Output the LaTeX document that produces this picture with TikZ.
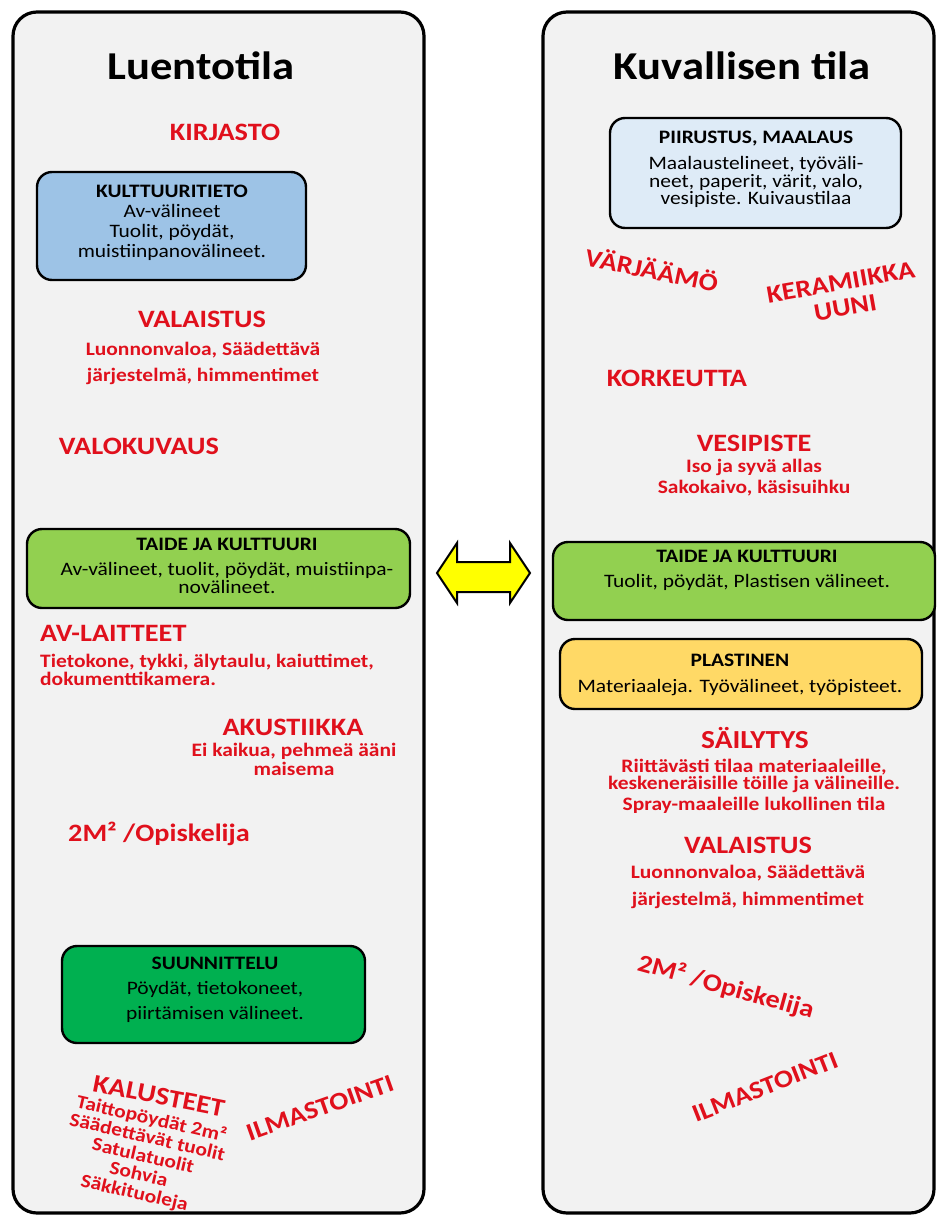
\documentclass[tikz,border=0pt]{standalone}
\usepackage{fontspec}
\setmainfont{Carlito}[FakeStretch=1.13]
\definecolor{redt}{RGB}{224,16,28}
\definecolor{panelgray}{RGB}{242,242,242}
\definecolor{blueA}{RGB}{157,195,230}
\definecolor{blueB}{RGB}{222,235,247}
\definecolor{greenA}{RGB}{146,208,80}
\definecolor{greenB}{RGB}{0,176,80}
\definecolor{yellowA}{RGB}{255,217,102}
\definecolor{arrowyellow}{RGB}{255,255,0}
\begin{document}
\begin{tikzpicture}[x=1pt,y=-1pt,
  panel/.style={draw=black, line width=3.2pt, fill=panelgray, rounded corners=24pt},
  box/.style={draw=black, line width=2.4pt, rounded corners=15pt, inner sep=0pt, outer sep=0pt},
  ptitle/.style={font=\bfseries\fontsize{39.5}{44}\selectfont, inner sep=0pt},
  head/.style={text=redt, font=\bfseries\fontsize{25}{28}\selectfont, inner sep=0pt},
  bighead/.style={text=redt, font=\bfseries\fontsize{26}{30}\selectfont, inner sep=0pt},
  sub/.style={text=redt, font=\bfseries\fontsize{19}{#1}\selectfont, align=center, inner sep=0pt},
  btitle/.style={font=\bfseries\fontsize{19}{20}\selectfont, inner sep=0pt},
  btext/.style={font=\fontsize{19}{#1}\selectfont, align=center, inner sep=0pt},
]
\useasboundingbox (0,0) rectangle (937,1215);
\fill[white] (0,0) rectangle (937,1215);

% panels
\path[panel] (13,12) rectangle (424,1213);
\path[panel] (543,12) rectangle (934,1213);

% double arrow
\draw[line width=2pt, fill=arrowyellow, line join=miter]
  (437,573) -- (457,543) -- (457,562) -- (510,562) -- (510,543) -- (530,573)
  -- (510,603) -- (510,592) -- (457,592) -- (457,603) -- cycle;

% ===== Left panel =====
\node[ptitle] (t1) at (201,66) {Luentotila};
\node[head] (kirjasto) at (225,132) {KIRJASTO};

\node[box, fill=blueA, minimum width=269pt, minimum height=108pt] (b1) at (171.5,226) {};
\node[btext=20] (b1t) at (172,223) {\textbf{KULTTUURITIETO}\\Av-välineet\\Tuolit, pöydät,\\muistiinpanovälineet.};

\node[head] (val1) at (202,319) {VALAISTUS};
\node[sub=26] (val1s) at (203,363) {Luonnonvaloa, Säädettävä\\järjestelmä, himmentimet};

\node[head] (valok) at (139,446) {VALOKUVAUS};

\node[box, fill=greenA, minimum width=383pt, minimum height=79pt] (b2) at (218.5,568.5) {};
\node[btitle] (b2h) at (227,544) {TAIDE JA KULTTUURI};
\node[btext=15] (b2t) at (227,578) {Av-välineet, tuolit, pöydät, muistiinpa-\\novälineet.};

\node[head, anchor=west] (avl) at (40,633) {AV-LAITTEET};
\node[sub=15, align=left, anchor=west] (avls) at (40,670) {Tietokone, tykki, älytaulu, kaiuttimet,\\dokumenttikamera.};

\node[head] (akus) at (293,727) {AKUSTIIKKA};
\node[sub=19] (akuss) at (294,759) {Ei kaikua, pehmeä ääni\\maisema};

\node[head] (op1) at (159,834) {2M² /Opiskelija};

\node[box, fill=greenB, minimum width=303pt, minimum height=97pt] (b3) at (213.5,994.5) {};
\node[btitle] (b3h) at (215,963) {SUUNNITTELU};
\node[btext=25] (b3t) at (215,1002) {Pöydät, tietokoneet,\\piirtämisen välineet.};

\node[bighead, font=\bfseries\fontsize{25.5}{30}\selectfont, rotate=-11] (kal) at (159,1096) {KALUSTEET};
\node[sub=19, rotate=-13] (kals) at (143,1156)
  {Taittopöydät 2m²\\Säädettävät tuolit\\Satulatuolit\\Sohvia\\Säkkituoleja};
\node[head, rotate=19.5] (ilm1) at (320,1108) {ILMASTOINTI};

% ===== Right panel =====
\node[ptitle] (t2) at (742,66) {Kuvallisen tila};

\node[box, fill=blueB, minimum width=291pt, minimum height=110pt] (b4) at (755.5,173) {};
\node[btitle] (b4h) at (756,139) {PIIRUSTUS, MAALAUS};
\node[btext=16] (b4t) at (756,182) {Maalaustelineet, työväli-\\neet, paperit, värit, valo,\\vesipiste. Kuivaustilaa};

\node[head, rotate=-11.5] (varj) at (652,269) {VÄRJÄÄMÖ};
\node[head, align=center, font=\bfseries\fontsize{25}{26}\selectfont, rotate=10] (ker) at (843,295) {KERAMIIKKA\\UUNI};

\node[head] (kork) at (677,378) {KORKEUTTA};

\node[head] (vesi) at (754,443) {VESIPISTE};
\node[sub=21] (vesis) at (754,478) {Iso ja syvä allas\\Sakokaivo, käsisuihku};

\node[box, fill=greenA, minimum width=382pt, minimum height=78pt] (b5) at (744,581) {};
\node[btitle] (b5h) at (747,556) {TAIDE JA KULTTUURI};
\node[btext=20] (b5t) at (747,582) {Tuolit, pöydät, Plastisen välineet.};

\node[box, fill=yellowA, minimum width=362pt, minimum height=70pt] (b6) at (741,674) {};
\node[btitle] (b6h) at (740,660) {PLASTINEN};
\node[btext=20] (b6t) at (740,688) {Materiaaleja. Työvälineet, työpisteet.};

\node[bighead] (sail) at (755,738) {SÄILYTYS};
\node[sub=15] (sails) at (754,776) {Riittävästi tilaa materiaaleille,\\keskeneräisille töille ja välineille.};
\node[sub=15] (sails2) at (754,805) {Spray-maaleille lukollinen tila};

\node[head] (val2) at (748,845) {VALAISTUS};
\node[sub=27] (val2s) at (748,887) {Luonnonvaloa, Säädettävä\\järjestelmä, himmentimet};

\node[head, rotate=-15.5] (op2) at (726,987) {2M² /Opiskelija};
\node[head, rotate=21.5] (ilm2) at (765,1087) {ILMASTOINTI};
\end{tikzpicture}
\end{document}
